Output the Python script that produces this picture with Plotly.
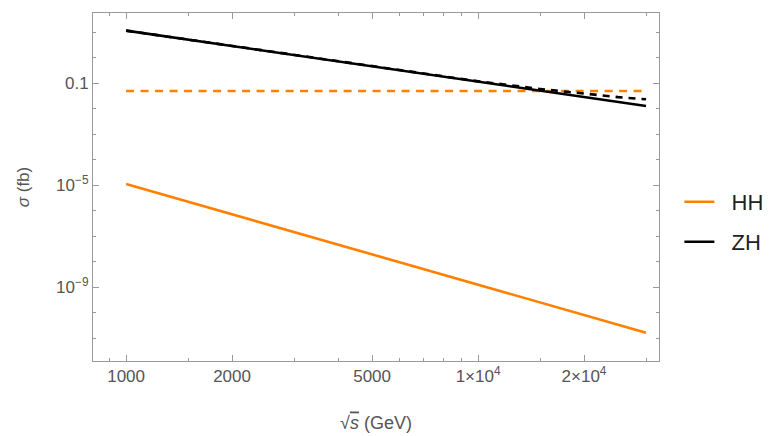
import plotly.graph_objects as go

# ---- data ----
sqrt_s = [1000, 2000, 5000, 10000, 20000, 30000]
hh_solid = [1.12e-5, 7.2e-7, 1.95e-8, 1.26e-9, 8.1e-11, 1.66e-11]
zh_solid = [11.6, 2.9, 0.464, 0.116, 0.029, 0.0129]

sqrt_s_dashed = [1000, 2000, 5000, 10000, 15000, 20000, 25000, 30000]
zh_dashed = [11.6, 2.9, 0.47, 0.12, 0.06, 0.039, 0.0287, 0.0236]
hh_dashed = [0.05, 0.05, 0.05, 0.05, 0.05, 0.05, 0.05, 0.05]

x_tickvals = [1000, 2000, 5000, 10000, 20000]
x_ticktext = ["1000", "2000", "5000", "1\u00d710<sup>4</sup>", "2\u00d710<sup>4</sup>"]
x_minor = [900, 1500, 3000, 4000, 6000, 7000, 8000, 9000, 15000, 30000]
y_tickvals = [0.1, 1e-5, 1e-9]
y_ticktext = ["0.1", "10<sup>\u22125</sup>", "10<sup>\u22129</sup>"]
y_minor = [10, 1, 0.01, 1e-3, 1e-4, 1e-6, 1e-7, 1e-8, 1e-10, 1e-11]

ORANGE = "#ff8000"
BLACK = "#000000"
GRAY = "#9a9a9a"
LABEL = "#555555"
FONT = "Liberation Sans, Arial, sans-serif"

fig = go.Figure()
fig.add_trace(go.Scatter(x=sqrt_s_dashed, y=hh_dashed, mode="lines",
                         line=dict(color=ORANGE, width=2.6, dash="8px,6.5px"),
                         showlegend=False, hoverinfo="skip"))
fig.add_trace(go.Scatter(x=sqrt_s_dashed, y=zh_dashed, mode="lines",
                         line=dict(color=BLACK, width=2.6, dash="7px,6px"),
                         showlegend=False, hoverinfo="skip"))
fig.add_trace(go.Scatter(x=sqrt_s, y=hh_solid, mode="lines", name="\u00a0\u00a0HH",
                         line=dict(color=ORANGE, width=2.6), legend="legend"))
fig.add_trace(go.Scatter(x=sqrt_s, y=zh_solid, mode="lines", name="\u00a0\u00a0ZH",
                         line=dict(color=BLACK, width=2.6), legend="legend2"))

axis_common = dict(
    type="log", showgrid=False, zeroline=False,
    showline=True, linecolor=GRAY, linewidth=1, mirror="ticks",
    ticks="inside", ticklen=6, tickwidth=1, tickcolor=GRAY,
    tickfont=dict(size=17, color=LABEL, family=FONT),
)

fig.update_layout(
    width=769, height=436,
    margin=dict(l=93, r=110, t=13, b=75, autoexpand=False),
    paper_bgcolor="white", plot_bgcolor="white",
    font=dict(family=FONT, color=LABEL),
    xaxis=dict(
        **axis_common,
        range=[2.906, 4.514],
        tickmode="array", tickvals=x_tickvals, ticktext=x_ticktext,
        minor=dict(tickmode="array", tickvals=x_minor, ticks="inside",
                   ticklen=3, tickcolor=GRAY, showgrid=False),
        title=dict(text="\u221a<span style='text-decoration:overline'><i>s</i></span> (GeV)",
                   font=dict(size=18, color=LABEL, family=FONT), standoff=30),
    ),
    yaxis=dict(
        **axis_common,
        range=[-11.89, 1.757],
        tickmode="array", tickvals=y_tickvals, ticktext=y_ticktext,
        minor=dict(tickmode="array", tickvals=y_minor, ticks="inside",
                   ticklen=3, tickcolor=GRAY, showgrid=False),
        title=dict(text="<i>\u03c3</i> (fb)",
                   font=dict(size=17, color=LABEL, family=FONT), standoff=22),
    ),
    legend=dict(x=1.036, y=0.457, xanchor="left", yanchor="middle",
                font=dict(size=22, color="#222222", family=FONT),
                bgcolor="rgba(0,0,0,0)"),
    legend2=dict(x=1.036, y=0.342, xanchor="left", yanchor="middle",
                 font=dict(size=22, color="#222222", family=FONT),
                 bgcolor="rgba(0,0,0,0)"),
)

fig.write_html("out.html")
